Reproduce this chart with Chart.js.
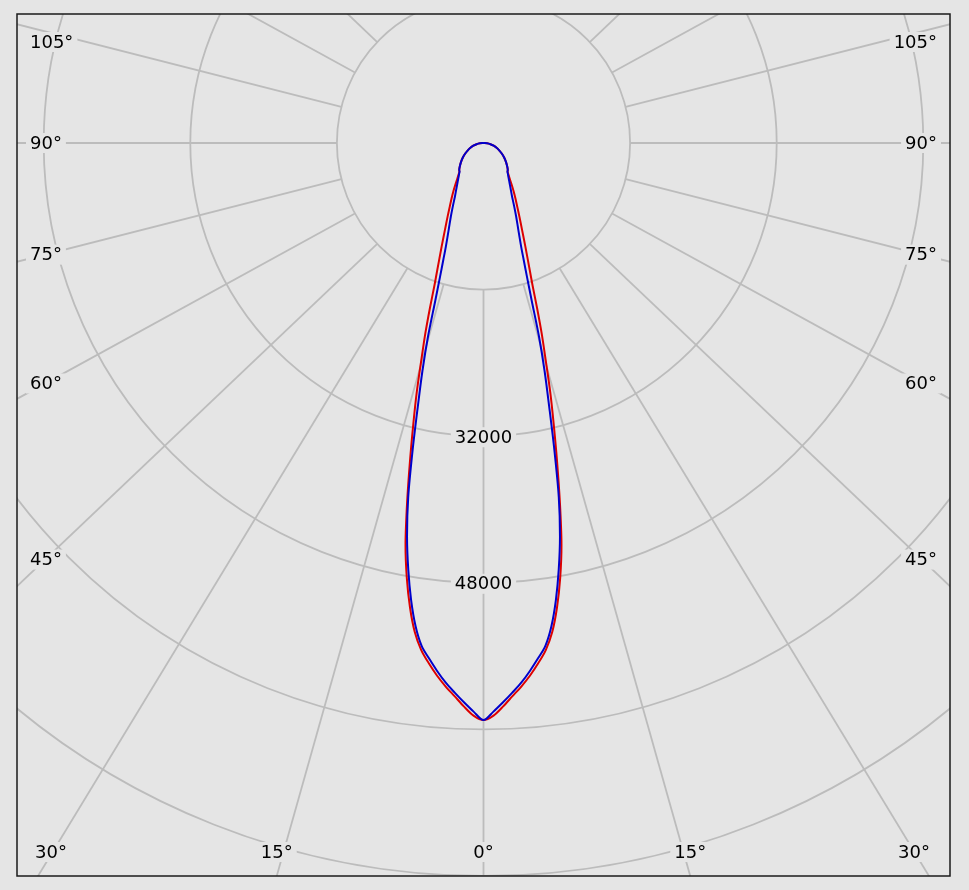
<!DOCTYPE html>
<html>
<head>
<meta charset="utf-8">
<title>Luminous intensity</title>
<script src="https://cdn.jsdelivr.net/npm/chart.js@4/dist/chart.umd.min.js"></script>
<style>
  html, body { margin: 0; padding: 0; background: #e5e5e5; }
  #wrap { width: 969px; height: 890px; }
</style>
</head>
<body>
<div id="wrap"><canvas id="polarChart"></canvas></div>
<script>
// angles from nadir (deg), one half-plane; mirrored for the other side
const angles = [0, 1, 2, 3, 4, 5, 6, 7, 8, 9, 10, 11, 12, 13, 14, 15, 16, 17, 18, 19, 20,
    22, 24, 26, 28, 30, 32, 34, 36, 38, 40, 42, 45, 50, 55, 60, 65, 70, 75, 80, 85, 90];

const redIntensity = [62980, 62500, 61520, 60450, 59440, 58340, 57100, 55760, 53900, 51300, 48200,
    44600, 40100, 35700, 31700, 28130, 24600, 21700, 18900, 16450, 14750,
    12200, 10320, 8940, 7830, 6960, 6200, 5500, 4900, 4450, 4110, 3960,
    3670, 3200, 2750, 2300, 1890, 1520, 1150, 770, 390, 0];

const blueIntensity = [62980, 62070, 61080, 60070, 59050, 57870, 56610, 55320, 53250, 50500, 47280,
    43740, 39520, 34380, 29620, 25760, 21970, 18000, 15360, 13450, 12000,
    10100, 8750, 7600, 6650, 6000, 5460, 5020, 4640, 4340, 4060, 3960,
    3670, 3200, 2750, 2300, 1890, 1520, 1150, 770, 390, 0];

const ringValues = [16000, 32000, 48000, 64000, 80000];
const ringLabelValues = [32000, 48000];
const spokeAngles = [0, 15, 30, 45, 60, 75, 90, 105, 120, 135];
const sideLabelAngles = [45, 60, 75, 90, 105];
const bottomLabelAngles = [0, 15, 30];

const gridColor = '#bcbcbc';
const bgColor = '#e5e5e5';
const labelFont = '18px "DejaVu Sans", Verdana, sans-serif';
const spokeSquash = 0.95; // the spokes in the picture lean a little flatter than true angles

function halfCurve(values, side) {
    return angles.map((a, i) => {
        const r = a * Math.PI / 180;
        return {x: side * values[i] * Math.sin(r), y: -values[i] * Math.cos(r)};
    });
}

function closedCurve(values) {
    const left = halfCurve(values, -1).reverse();
    const right = halfCurve(values, 1).slice(1);
    return left.concat(right);
}

function drawLabel(ctx, text, px, py, align) {
    ctx.font = labelFont;
    const w = ctx.measureText(text).width;
    let left = px;
    if (align === 'center') left = px - w / 2;
    if (align === 'right') left = px - w;
    ctx.fillStyle = bgColor;
    ctx.fillRect(left - 4, py - 10, w + 8, 20);
    ctx.fillStyle = '#000';
    ctx.textAlign = 'left';
    ctx.textBaseline = 'middle';
    ctx.fillText(text, left, py + 1);
}

const polarGrid = {
    id: 'polarGrid',
    beforeDatasetsDraw(chart) {
        const {ctx, chartArea: a, scales: {x, y}} = chart;
        const cx = x.getPixelForValue(0);
        const cy = y.getPixelForValue(0);
        const ppu = x.getPixelForValue(1000) - cx; // pixels per 1000

        ctx.save();
        ctx.beginPath();
        ctx.rect(a.left, a.top, a.right - a.left, a.bottom - a.top);
        ctx.clip();
        ctx.strokeStyle = gridColor;
        ctx.lineWidth = 1.8;

        ringValues.forEach(v => {
            ctx.beginPath();
            ctx.arc(cx, cy, v / 1000 * ppu, 0, Math.PI * 2);
            ctx.stroke();
        });

        const r0 = ringValues[0] / 1000 * ppu;
        spokeAngles.forEach(deg => {
            const sides = deg === 0 ? [1] : [-1, 1];
            sides.forEach(side => {
                const rad = deg * Math.PI / 180;
                let dx = side * Math.sin(rad), dy = Math.cos(rad) * spokeSquash;
                const n = Math.hypot(dx, dy);
                dx /= n; dy /= n;
                ctx.beginPath();
                ctx.moveTo(cx + dx * r0, cy + dy * r0);
                ctx.lineTo(cx + dx * 2000, cy + dy * 2000);
                ctx.stroke();
            });
        });

        // angle labels on the sides
        sideLabelAngles.forEach(deg => {
            const rad = deg * Math.PI / 180;
            [-1, 1].forEach(side => {
                const tx = side < 0 ? a.left + 28 : a.right - 28;
                const t = (tx - cx) / (side * Math.sin(rad));
                let py = cy + t * Math.cos(rad) * spokeSquash;
                py = Math.max(py, a.top + 28);
                if (side < 0) drawLabel(ctx, deg + '°', a.left + 13, py, 'left');
                else drawLabel(ctx, deg + '°', a.right - 13, py, 'right');
            });
        });

        // angle labels along the bottom
        ctx.font = labelFont;
        bottomLabelAngles.forEach(deg => {
            const rad = deg * Math.PI / 180;
            const sides = deg === 0 ? [1] : [-1, 1];
            sides.forEach(side => {
                const txt = deg + '°';
                const w = ctx.measureText(txt).width;
                const t = (a.bottom - cy) / (Math.cos(rad) * spokeSquash);
                let px = cx + side * t * Math.sin(rad);
                px = Math.max(px, a.left + 18 + w / 2);
                px = Math.min(px, a.right - 20 - w / 2);
                drawLabel(ctx, txt, px, a.bottom - 24, 'center');
            });
        });

        // ring value labels on the 0° spoke
        ringLabelValues.forEach(v => {
            drawLabel(ctx, String(v), cx, y.getPixelForValue(-v) + 1, 'center');
        });

        ctx.restore();
    },
    afterDraw(chart) {
        const {ctx, chartArea: a} = chart;
        ctx.save();
        ctx.strokeStyle = '#1a1a1a';
        ctx.lineWidth = 1.5;
        ctx.strokeRect(a.left, a.top, a.right - a.left, a.bottom - a.top);
        ctx.restore();
    }
};

const ctx = document.getElementById('polarChart').getContext('2d');
new Chart(ctx, {
    type: 'scatter',
    data: {
        datasets: [{
            label: 'C90-C270',
            data: closedCurve(blueIntensity),
            borderColor: '#0000cc',
            borderWidth: 2,
            showLine: true,
            pointRadius: 0,
            tension: 0.3
        }, {
            label: 'C0-C180',
            data: closedCurve(redIntensity),
            borderColor: '#dd0000',
            borderWidth: 2,
            showLine: true,
            pointRadius: 0,
            tension: 0.3
        }]
    },
    options: {
        responsive: true,
        maintainAspectRatio: false,
        animation: false,
        events: [],
        layout: {padding: {left: 17, right: 19, top: 14, bottom: 14}},
        plugins: {legend: {display: false}, tooltip: {enabled: false}},
        scales: {
            x: {type: 'linear', min: -50914, max: 50914, display: false},
            y: {type: 'linear', min: -80000, max: 14079, display: false}
        }
    },
    plugins: [polarGrid]
});
</script>
</body>
</html>
